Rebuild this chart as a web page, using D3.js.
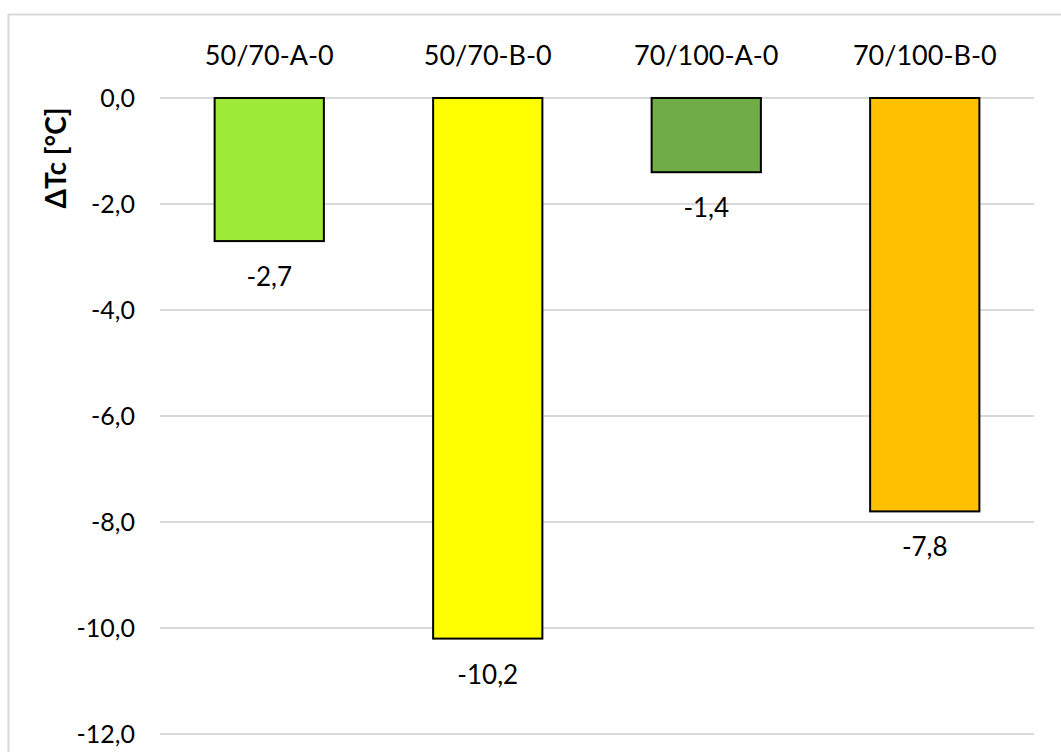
<!DOCTYPE html>
<html><head><meta charset="utf-8">
<script src="https://cdn.jsdelivr.net/npm/d3@7"></script>
<style>body{margin:0;background:#fff}svg{display:block}text{font-family:Lato,"Open Sans",sans-serif;fill:#000}</style>
</head><body><svg id="c" width="1061" height="752"></svg>
<script>
const categories = ["50/70-A-0","50/70-B-0","70/100-A-0","70/100-B-0"];
const values = [-2.7,-10.2,-1.4,-7.8];
const colors = ["#9DEB38","#FFFF00","#70AD47","#FFC000"];
const yTicks = [0,-2,-4,-6,-8,-10,-12];
const yTitle = "ΔTc [°C]";

const svg = d3.select("#c");
svg.append("rect").attr("x",8.5).attr("y",14.5).attr("width",1100).attr("height",800)
  .attr("fill","#fff").attr("stroke","#d9d9d9").attr("stroke-width",2);

const x = d3.scaleBand().domain(categories).range([160,1034]).paddingInner(0.5).paddingOuter(0.25);
const y = d3.scaleLinear().domain([0,-12]).range([98,734]);

const fmt = v => d3.format(".1f")(v).replace(".",",").replace("−","-");

// gridlines
svg.append("g").selectAll("line").data(yTicks).join("line")
  .attr("x1",160).attr("x2",1034).attr("y1",d=>y(d)).attr("y2",d=>y(d))
  .attr("stroke","#d9d9d9").attr("stroke-width",2);

// y axis labels
const yAxis = d3.axisLeft(y).tickValues(yTicks).tickFormat(fmt).tickSize(0).tickPadding(0);
const ga = svg.append("g").attr("transform","translate(135,0)").call(yAxis);
ga.select(".domain").remove();
ga.selectAll("text").style("font-size","25px").style("font-family","Lato, sans-serif").attr("fill","#000");

// y title
svg.append("text").attr("transform","translate(66,158) rotate(-90)").attr("text-anchor","middle")
  .style("font-size","28px").style("font-weight","bold").text(yTitle);

// category labels at top
const gx = d3.axisTop(x).tickSize(0).tickPadding(0);
const gxa = svg.append("g").attr("transform","translate(0,65)").call(gx);
gxa.select(".domain").remove();
gxa.selectAll("text").style("font-size","27px").style("font-family","Lato, sans-serif").attr("fill","#000");

// bars
svg.append("g").selectAll("rect").data(values).join("rect")
  .attr("x",(d,i)=>x(categories[i])).attr("width",x.bandwidth())
  .attr("y",y(0)).attr("height",d=>y(d)-y(0))
  .attr("fill",(d,i)=>colors[i]).attr("stroke","#000").attr("stroke-width",2);

// data labels
svg.append("g").selectAll("text").data(values).join("text")
  .attr("x",(d,i)=>x(categories[i])+x.bandwidth()/2).attr("y",d=>y(d)+45)
  .attr("text-anchor","middle").style("font-size","26px").text(fmt);
</script></body></html>
